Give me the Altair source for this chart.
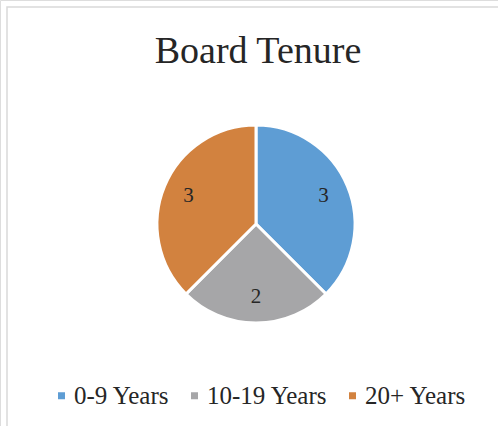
import altair as alt
import pandas as pd

TITLE = "Board Tenure"
categories = ["0-9 Years", "10-19 Years", "20+ Years"]
values = [3, 2, 3]
colors = ["#5E9DD4", "#A6A6A8", "#D2823F"]

df = pd.DataFrame({"cat": categories, "val": values, "idx": list(range(len(categories)))})

W, H = 498, 426
CX, CY, R = 256, 224, 99

color_enc = alt.Color(
    "cat:N",
    scale=alt.Scale(domain=categories, range=colors),
    legend=alt.Legend(
        title=None,
        orient="none",
        direction="horizontal",
        legendX=49,
        legendY=383,
    ),
)

base = alt.Chart(df)

arcs = base.mark_arc(outerRadius=R, stroke="white", strokeWidth=3).encode(
    theta=alt.Theta("val:Q", stack=True),
    color=color_enc,
    order=alt.Order("idx:Q"),
    x=alt.value(CX),
    y=alt.value(CY),
)

labels = base.mark_text(
    font="Liberation Serif", fontSize=21, color="#262626", baseline="middle", align="center"
).encode(
    theta=alt.Theta("val:Q", stack=True),
    order=alt.Order("idx:Q"),
    text=alt.Text("val:Q"),
    radius=alt.value(73),
    x=alt.value(CX),
    y=alt.value(CY),
)

title = alt.Chart(pd.DataFrame({"t": [TITLE]})).mark_text(
    font="Liberation Serif", fontSize=38, color="#262626", baseline="alphabetic", align="center"
).encode(text="t:N", x=alt.value(CX + 2), y=alt.value(63))

frame = alt.Chart(pd.DataFrame({"a": [0]})).mark_rect(
    fill=None, fillOpacity=0, stroke="#D9D9D9", strokeWidth=1.5
).encode(x=alt.value(7), x2=alt.value(560), y=alt.value(7), y2=alt.value(500))

chart = (
    alt.layer(frame, arcs, labels, title)
    .properties(width=W, height=H, padding=0, autosize=alt.AutoSizeParams(type="none"))
    .configure_view(stroke=None)
    .configure(background="white")
    .configure_legend(
        symbolType="square",
        symbolSize=49,
        symbolStrokeWidth=0,
        labelFont="Liberation Serif",
        labelFontSize=25,
        labelColor="#262626",
        labelOffset=0,
        columnPadding=12,
        padding=0,
        labelLimit=300,
    )
)

chart.save("out.html", embed_options={"renderer": "svg", "actions": False})
